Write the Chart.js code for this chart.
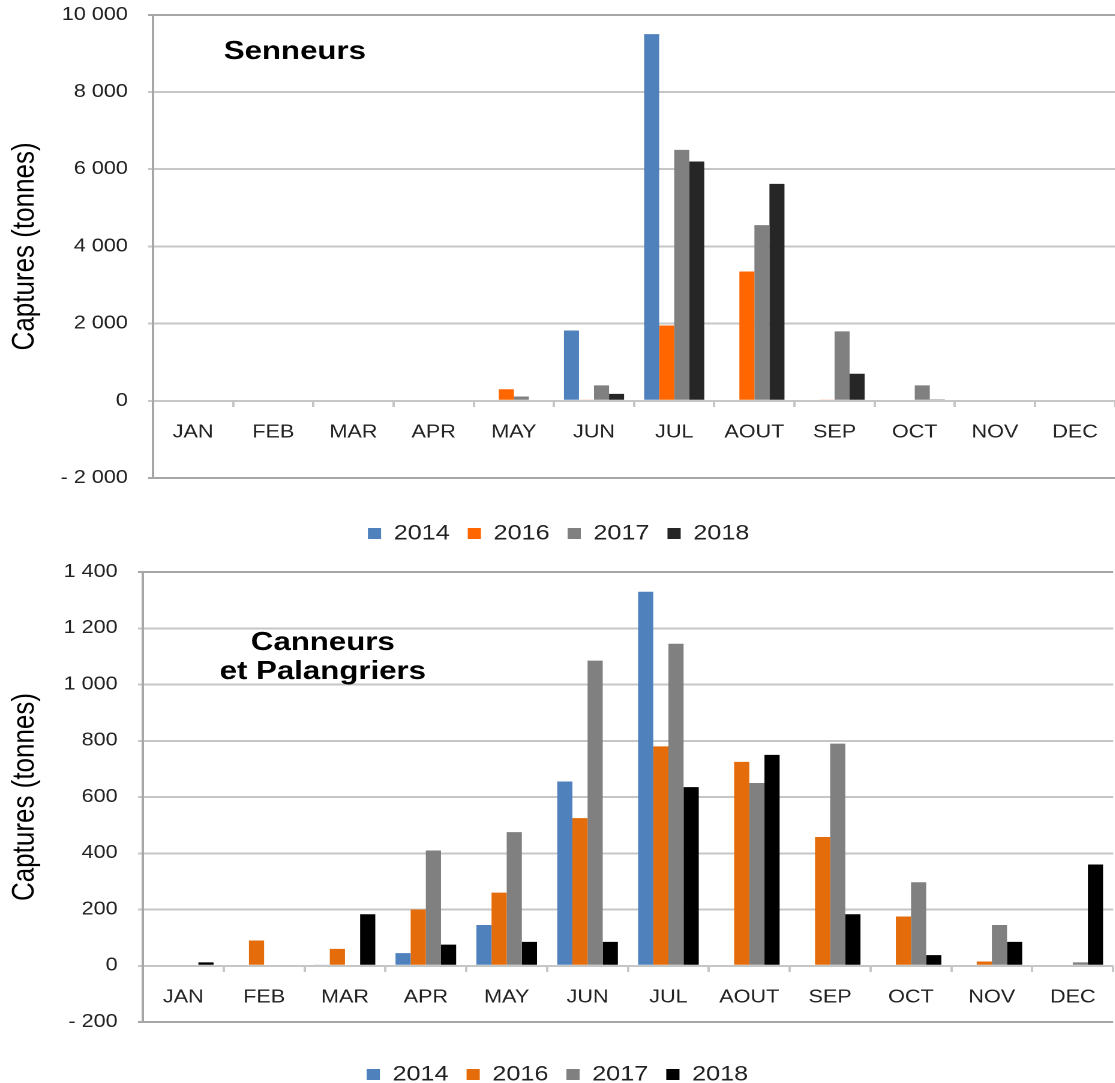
<!DOCTYPE html>
<html>
<head>
<meta charset="utf-8">
<script src="https://cdn.jsdelivr.net/npm/chart.js@4.4.1/dist/chart.umd.min.js"></script>
<style>
  html, body { margin: 0; padding: 0; background: #fff; width: 1115px; height: 1083px; overflow: hidden; }
  /* the source figure is stretched horizontally, so each panel is too */
  .panel { position: absolute; left: 0; transform: scaleX(1.2); transform-origin: 0 0; }
</style>
</head>
<body>
<div class="panel" style="top: -13px;"><canvas id="senneurs" width="931" height="567"></canvas></div>
<div class="panel" style="top: 540px;"><canvas id="canneurs" width="929" height="555"></canvas></div>
<script>
const months = ["JAN", "FEB", "MAR", "APR", "MAY", "JUN", "JUL", "AOUT", "SEP", "OCT", "NOV", "DEC"];
const years = ["2014", "2016", "2017", "2018"];

// Senneurs (tonnes)
const senneurs2014 = [0, 0, 0, 0, 0, 1820, 9500, 0, 0, 0, 0, 0];
const senneurs2016 = [0, 0, 0, 0, 300, 30, 1950, 3350, 30, 0, 0, 0];
const senneurs2017 = [0, 0, 0, 0, 110, 400, 6500, 4550, 1800, 400, 0, 0];
const senneurs2018 = [0, 0, 0, 0, 0, 180, 6200, 5620, 700, 20, 0, 0];
const senneursTicks = ["- 2 000", "0", "2 000", "4 000", "6 000", "8 000", "10 000"];

// Canneurs et Palangriers (tonnes)
const canneurs2014 = [0, 0, 3, 45, 145, 655, 1330, 0, 0, 0, 0, 0];
const canneurs2016 = [0, 90, 60, 200, 260, 525, 780, 725, 458, 175, 15, 0];
const canneurs2017 = [0, 0, 0, 410, 475, 1085, 1145, 650, 790, 297, 145, 12];
const canneurs2018 = [12, 0, 183, 75, 85, 85, 635, 750, 183, 38, 85, 360];
const canneursTicks = ["- 200", "0", "200", "400", "600", "800", "1 000", "1 200", "1 400"];

const FONT = '"Liberation Sans", Arial, sans-serif';
const GRID = "#c6c6c6";
const AXIS = "#a6a6a6";

// title written inside the plot area
const panelTitle = {
    id: "panelTitle",
    afterDraw(chart, args, opts) {
        const { ctx, chartArea } = chart;
        ctx.save();
        ctx.font = "bold 26px " + FONT;
        ctx.fillStyle = "#000";
        ctx.textAlign = opts.align;
        ctx.textBaseline = "middle";
        opts.lines.forEach((line, i) => {
            ctx.fillText(line, chartArea.left + opts.x, chartArea.top + opts.y + i * 29);
        });
        ctx.restore();
    }
};

function makeChart(id, series, colors, yMin, yMax, step, tickLabels, axisWidth, padTop, gap, title) {
    return new Chart(document.getElementById(id), {
        type: "bar",
        data: {
            labels: months,
            datasets: series.map((values, i) => ({
                label: years[i],
                data: values,
                backgroundColor: colors[i],
                borderWidth: 0,
                categoryPercentage: 0.75,
                barPercentage: 1.0,
            })),
        },
        options: {
            responsive: false,
            animation: false,
            devicePixelRatio: 2,
            layout: { padding: { top: padTop, left: 0, right: 0, bottom: 0 } },
            scales: {
                x: {
                    position: { y: 0 },
                    offset: true,
                    grid: { offset: true, drawOnChartArea: false, drawTicks: true, tickLength: 5, tickWidth: 2, tickColor: GRID },
                    border: { display: true, color: GRID, width: 2 },
                    ticks: { color: "#222", padding: 16, maxRotation: 0, autoSkip: false, font: { family: FONT, size: 18 } },
                    afterFit: (s) => { s.height = 0; },
                },
                gap: {
                    type: "category",
                    position: "bottom",
                    grid: { display: false },
                    border: { display: false },
                    ticks: { display: false },
                    afterFit: (s) => { s.height = gap; },
                },
                y: {
                    min: yMin,
                    max: yMax,
                    ticks: {
                        stepSize: step,
                        color: "#222",
                        padding: 17,
                        font: { family: FONT, size: 18 },
                        callback: (v) => tickLabels[Math.round((v - yMin) / step)],
                    },
                    grid: {
                        lineWidth: 2,
                        tickLength: 4,
                        color: (c) => (c.tick && (c.tick.value === yMax || c.tick.value === yMin) ? AXIS : GRID),
                    },
                    border: { display: true, color: AXIS, width: 2 },
                    title: {
                        display: true,
                        text: "Captures (tonnes)",
                        color: "#000",
                        padding: { top: 5, bottom: 0 },
                        font: { family: FONT, size: 26 },
                    },
                    afterFit: (s) => { s.width = axisWidth; },
                },
            },
            plugins: {
                legend: {
                    position: "bottom",
                    labels: { boxWidth: 11, boxHeight: 11, padding: 15, color: "#222", font: { family: FONT, size: 21 } },
                },
                tooltip: { enabled: false },
                panelTitle: title,
            },
        },
        plugins: [panelTitle],
    });
}

makeChart("senneurs",
    [senneurs2014, senneurs2016, senneurs2017, senneurs2018],
    ["#4f81bd", "#ff6600", "#808080", "#262626"],
    -2000, 10000, 2000, senneursTicks, 127.5, 0, 30,
    { lines: ["Senneurs"], align: "left", x: 59, y: 37 });

makeChart("canneurs",
    [canneurs2014, canneurs2016, canneurs2017, canneurs2018],
    ["#4f81bd", "#e46c0a", "#808080", "#000000"],
    -200, 1400, 200, canneursTicks, 119, 32, 27,
    { lines: ["Canneurs", "et Palangriers"], align: "center", x: 150, y: 71 });
</script>
</body>
</html>
